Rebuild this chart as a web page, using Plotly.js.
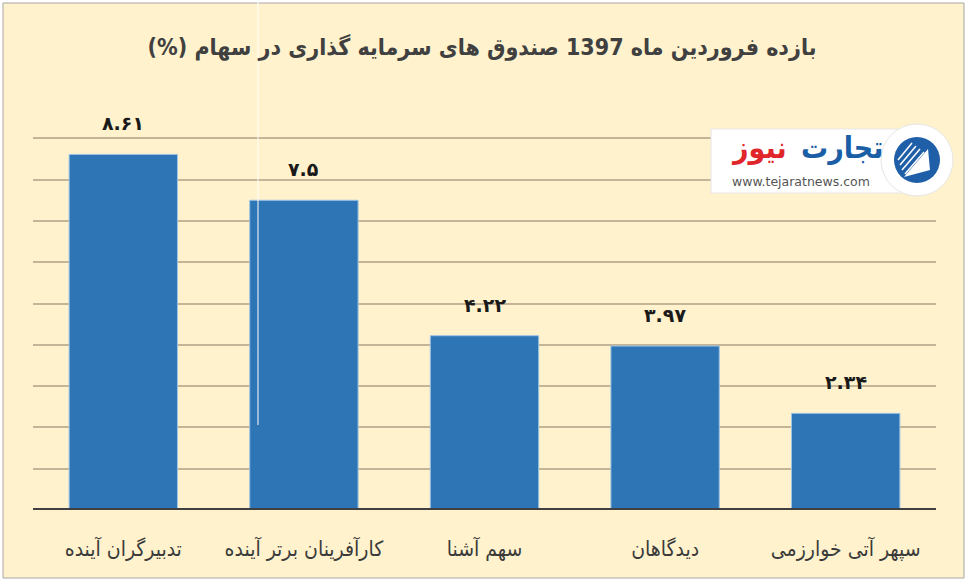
<!DOCTYPE html>
<html>
<head>
<meta charset="utf-8">
<script src="https://cdn.plot.ly/plotly-3.0.1.min.js"></script>
<style>html,body{margin:0;padding:0;background:#fff;}#chart{width:967px;height:583px;}</style>
</head>
<body>
<div id="chart"></div>
<script>
const categories = ["تدبیرگران آینده", "کارآفرینان برتر آینده", "سهم آشنا", "دیدگاهان", "سپهر آتی خوارزمی"];
const returns = [8.61, 7.5, 4.22, 3.97, 2.34];
const valueLabels = ["۸.۶۱", "۷.۵", "۴.۲۲", "۳.۹۷", "۲.۳۴"];
const titleText = "\u200Fبازده فروردین ماه 1397 صندوق های سرمایه گذاری در سهام (%)\u200F";

const W = 967, H = 583;
const L = 33, R = 31, T = 97, B = 73;
const pw = W - L - R, ph = H - T - B;
function px(x) { return (x - L) / pw; }
function py(y) { return (H - B - y) / ph; }

const fontFa = "DejaVu Sans Condensed, DejaVu Sans, sans-serif";
const fontNum = "DejaVu Sans, sans-serif";

const trace = {
  type: "bar",
  x: categories,
  y: returns,
  marker: { color: "#2E75B6", line: { color: "#9DC3E6", width: 1 } },
  hoverinfo: "skip"
};

const annotations = categories.map((c, i) => ({
  x: c, y: returns[i], xref: "x", yref: "y",
  text: valueLabels[i], showarrow: false,
  yanchor: "middle", yshift: 31,
  font: { family: fontNum, size: 19, color: "#1a1a1a", weight: "bold" }
}));

annotations.push(
  { xref: "paper", yref: "paper", x: px(842), y: py(147), text: "تجارت", showarrow: false,
    xanchor: "center", yanchor: "middle", font: { family: fontFa, size: 30, color: "#1B5EA6", weight: "bold" } },
  { xref: "paper", yref: "paper", x: px(759), y: py(147), text: "نیوز", showarrow: false,
    xanchor: "center", yanchor: "middle", font: { family: fontFa, size: 30, color: "#E0262B", weight: "bold" } },
  { xref: "paper", yref: "paper", x: px(801), y: py(181), text: "www.tejaratnews.com", showarrow: false,
    xanchor: "center", yanchor: "middle", font: { family: "DejaVu Sans, sans-serif", size: 12.5, color: "#555555" } }
);

const shapes = [
  { type: "rect", xref: "paper", yref: "paper", x0: px(3), x1: px(964), y0: py(578), y1: py(3),
    fillcolor: "#FFF2CC", line: { color: "#A6A6A6", width: 1 }, layer: "below" },
  { type: "line", xref: "paper", yref: "y", x0: 0, x1: 1, y0: 0, y1: 0,
    line: { color: "#404040", width: 4 }, layer: "above" },
  { type: "line", xref: "paper", yref: "paper", x0: px(258), x1: px(258), y0: py(425), y1: py(0),
    line: { color: "#FFFFFF", width: 1 }, layer: "above" },
  // logo
  { type: "rect", xref: "paper", yref: "paper", x0: px(711), x1: px(915), y0: py(193), y1: py(129),
    fillcolor: "#FFFFFF", line: { color: "#E6E6E6", width: 1 }, layer: "above" },
  { type: "circle", xref: "paper", yref: "paper", x0: px(881), x1: px(953), y0: py(196), y1: py(124),
    fillcolor: "#FFFFFF", line: { color: "#E6E6E6", width: 1 }, layer: "above" },
  { type: "circle", xref: "paper", yref: "paper", x0: px(894), x1: px(940), y0: py(183), y1: py(137),
    fillcolor: "#1F5FA8", line: { width: 0 }, layer: "above" },
  { type: "path", xref: "paper", yref: "paper",
    path: "M " + px(904) + "," + py(177) + " L " + px(928) + "," + py(149) + " L " + px(930) + "," + py(170) + " Z",
    fillcolor: "#FFFFFF", line: { width: 0 }, layer: "above" }
];
[[898,160,912,143],[900,165,916,146],[902,170,920,149],[905,174,924,152]].forEach(s => {
  shapes.push({ type: "line", xref: "paper", yref: "paper", x0: px(s[0]), y0: py(s[1]), x1: px(s[2]), y1: py(s[3]),
    line: { color: "#FFFFFF", width: 1.5 }, layer: "above" });
});

const layout = {
  width: W, height: H,
  margin: { l: L, r: R, t: T, b: B, pad: 0 },
  paper_bgcolor: "#FFFFFF",
  plot_bgcolor: "rgba(0,0,0,0)",
  title: { text: titleText, x: 482 / W, xanchor: "center", y: 1 - 47 / H, yanchor: "middle",
    font: { family: fontFa, size: 23, color: "#404040", weight: "bold" } },
  bargap: 0.4,
  showlegend: false,
  xaxis: { type: "category", showgrid: false, zeroline: false, showline: false,
    ticks: "outside", ticklen: 20, tickcolor: "rgba(0,0,0,0)",
    tickfont: { family: fontFa, size: 21, color: "#3a3a3a" }, automargin: false },
  yaxis: { range: [0, 10], dtick: 1, showticklabels: false, showgrid: true,
    gridcolor: "#C4B598", gridwidth: 2, zeroline: false, showline: false, ticks: "" },
  shapes: shapes,
  annotations: annotations
};

Plotly.newPlot("chart", [trace], layout, { displayModeBar: false, staticPlot: true });
</script>
</body>
</html>
